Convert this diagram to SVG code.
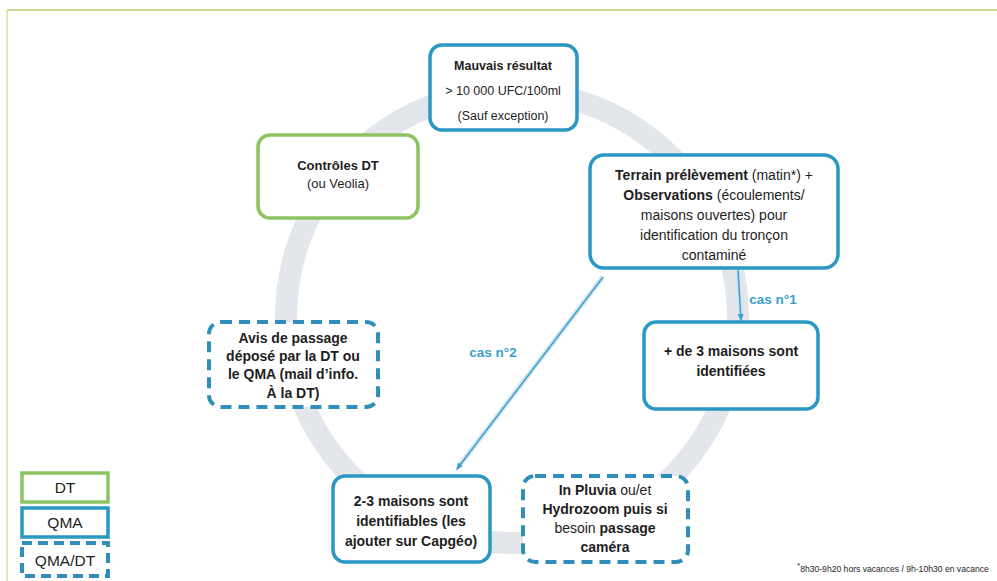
<svg xmlns="http://www.w3.org/2000/svg" width="997" height="581" viewBox="0 0 997 581">
  <defs>
    <style>
      text { font-family: "Liberation Sans", Arial, sans-serif; fill: #1e1e1e; text-anchor: middle; }
      .t12 { font-size: 12.5px; }
      .t13 { font-size: 13px; }
      .t14 { font-size: 14px; }
      .b { font-weight: bold; }
      .box-blue { fill: #ffffff; stroke: #2a97c4; stroke-width: 3.5; }
      .box-green { fill: #ffffff; stroke: #8dc462; stroke-width: 3.5; }
      .box-dash { fill: #ffffff; stroke: #2f8fba; stroke-width: 4; stroke-dasharray: 11 7; }
      .link { stroke: #3aa0d0; stroke-width: 1.5; fill: none; }
      .link-glow { stroke: #d3e5ee; stroke-width: 5; fill: none; }
      .case { fill: #3a9fcf; font-weight: bold; font-size: 13.5px; }
      .legend { font-size: 15.5px; }
    </style>
    <marker id="tip" viewBox="0 0 10 10" refX="8" refY="5" markerWidth="5" markerHeight="5" orient="auto">
      <path d="M0,1 L10,5 L0,9 z" fill="#3aa0d0"/>
    </marker>
  </defs>

  <rect width="997" height="581" fill="#ffffff"/>

  <!-- frame -->
  <g id="frame">
    <line x1="7" y1="10" x2="997" y2="10" stroke="#c9d98f" stroke-width="2"/>
    <line x1="7" y1="10" x2="7" y2="581" stroke="#d6e0a8" stroke-width="1.5"/>
  </g>

  <!-- cycle ring -->
  <g id="ring">
    <circle cx="512" cy="317" r="226" fill="none" stroke="#e3e7eb" stroke-width="22"/>
  </g>

  <!-- connectors -->
  <g id="connectors">
    <line class="link-glow" x1="738" y1="270" x2="741" y2="318"/>
    <line class="link" x1="738" y1="270" x2="741" y2="320" marker-end="url(#tip)"/>
    <line class="link-glow" x1="603" y1="277" x2="459" y2="466"/>
    <line class="link" x1="603" y1="277" x2="457" y2="469" marker-end="url(#tip)"/>
    <text class="case" x="773" y="304">cas n°1</text>
    <text class="case" x="493" y="357">cas n°2</text>
  </g>

  <g id="mauvais">
    <rect class="box-blue" x="430" y="45" width="147" height="85" rx="12"/>
    <text class="t12 b" x="503" y="70">Mauvais résultat</text>
    <text class="t12" x="503" y="95">&gt; 10 000 UFC/100ml</text>
    <text class="t12" x="503" y="120">(Sauf exception)</text>
  </g>

  <g id="controles">
    <rect class="box-green" x="258" y="135" width="160" height="83" rx="12"/>
    <text class="t13 b" x="338" y="170">Contrôles DT</text>
    <text class="t13" x="338" y="188">(ou Veolia)</text>
  </g>

  <g id="terrain">
    <rect class="box-blue" x="590" y="155" width="248" height="113" rx="14"/>
    <text class="t14" x="714" y="180"><tspan class="b">Terrain prélèvement</tspan> (matin*) +</text>
    <text class="t14" x="714" y="200"><tspan class="b">Observations</tspan> (écoulements/</text>
    <text class="t14" x="714" y="220">maisons ouvertes) pour</text>
    <text class="t14" x="714" y="240">identification du tronçon</text>
    <text class="t14" x="714" y="260">contaminé</text>
  </g>

  <g id="plus3">
    <rect class="box-blue" x="644" y="322" width="174" height="87" rx="12"/>
    <text class="t14 b" x="731" y="356">+ de 3 maisons sont</text>
    <text class="t14 b" x="731" y="376">identifiées</text>
  </g>

  <g id="avis">
    <rect class="box-dash" x="209" y="322" width="169" height="85" rx="12"/>
    <text class="t14 b" x="293" y="343">Avis de passage</text>
    <text class="t14 b" x="293" y="361">déposé par la DT ou</text>
    <text class="t14 b" x="293" y="379">le QMA (mail d’info.</text>
    <text class="t14 b" x="293" y="398">À la DT)</text>
  </g>

  <g id="deux-trois">
    <rect class="box-blue" x="333" y="476" width="157" height="86" rx="12"/>
    <text class="t14 b" x="411" y="506">2-3 maisons sont</text>
    <text class="t14 b" x="411" y="526">identifiables (les</text>
    <text class="t14 b" x="411" y="546">ajouter sur Capgéo)</text>
  </g>

  <g id="pluvia">
    <rect class="box-dash" x="523" y="476" width="165" height="86" rx="12"/>
    <text class="t14" x="605" y="495"><tspan class="b">In Pluvia</tspan> ou/et</text>
    <text class="t14 b" x="605" y="514">Hydrozoom puis si</text>
    <text class="t14" x="605" y="533">besoin <tspan class="b">passage</tspan></text>
    <text class="t14 b" x="605" y="552">caméra</text>
  </g>

  <!-- legend -->
  <g id="legend-dt">
    <rect x="22" y="473" width="86" height="29" fill="#ffffff" stroke="#8dc462" stroke-width="3.5"/>
    <text class="legend" x="65" y="493">DT</text>
  </g>
  <g id="legend-qma">
    <rect x="22" y="508" width="86" height="29" fill="#ffffff" stroke="#2a97c4" stroke-width="3.5"/>
    <text class="legend" x="65" y="528">QMA</text>
  </g>
  <g id="legend-qmadt">
    <rect x="22" y="543" width="86" height="33" fill="#ffffff" stroke="#2f8fba" stroke-width="4" stroke-dasharray="10 6"/>
    <text class="legend" x="65" y="566">QMA/DT</text>
  </g>

  <!-- footnote -->
  <g id="footnote">
    <text x="797" y="572" style="font-size:8.6px;text-anchor:start;"><tspan dy="-4" style="font-size:8px">*</tspan><tspan dy="4">8h30-9h20 hors vacances / 9h-10h30 en vacance</tspan></text>
  </g>
</svg>
